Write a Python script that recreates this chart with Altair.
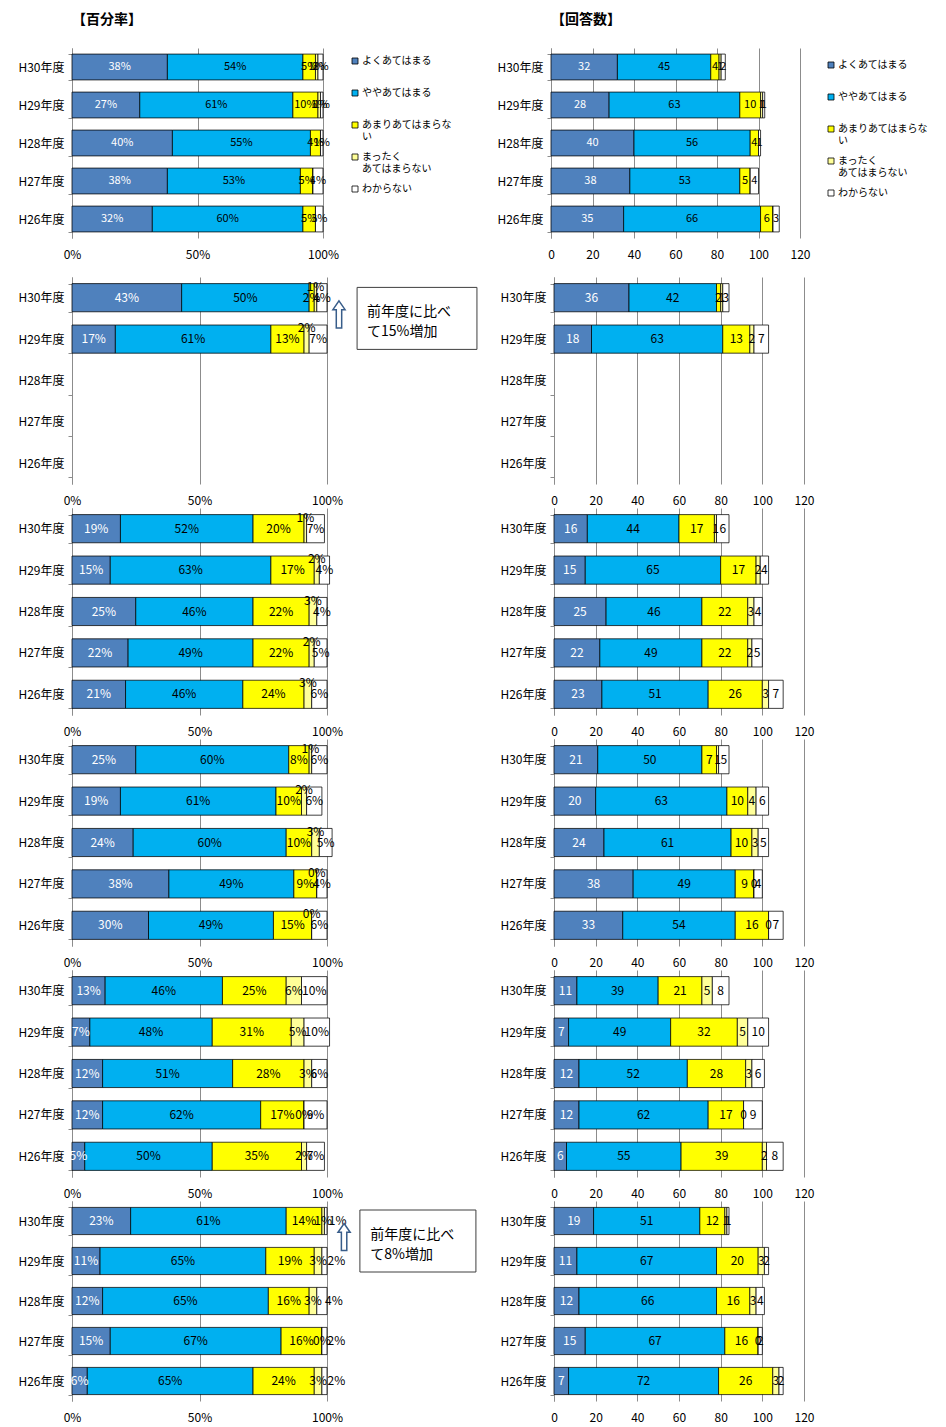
import altair as alt
import pandas as pd

FONT = "Noto Sans CJK JP"

YEARS = ["H30年度", "H29年度", "H28年度", "H27年度", "H26年度"]
CATS = ["よくあてはまる", "ややあてはまる", "あまりあてはまらない", "まったくあてはまらない", "わからない"]
COLORS = ["#4F81BD", "#00B0F0", "#FFFF00", "#FFFF99", "#FFFFFF"]

PCT_TICKS = [0, 50, 100]
CNT_TICKS = [0, 20, 40, 60, 80, 100, 120]

# each inner list = one answer category, values per year (H30 -> H26)
PCT_1 = [[38, 27, 40, 38, 32], [54, 61, 55, 53, 60], [5, 10, 4, 5, 5], [1, 1, 0, 0, 0], [2, 1, 1, 4, 3]]
CNT_1 = [[32, 28, 40, 38, 35], [45, 63, 56, 53, 66], [4, 10, 4, 5, 6], [1, 1, 0, 0, 0], [2, 1, 1, 4, 3]]
PCT_2 = [[43, 17], [50, 61], [2, 13], [1, 2], [4, 7]]
CNT_2 = [[36, 18], [42, 63], [2, 13], [1, 2], [3, 7]]
PCT_3 = [[19, 15, 25, 22, 21], [52, 63, 46, 49, 46], [20, 17, 22, 22, 24], [1, 2, 3, 2, 3], [7, 4, 4, 5, 6]]
CNT_3 = [[16, 15, 25, 22, 23], [44, 65, 46, 49, 51], [17, 17, 22, 22, 26], [1, 2, 3, 2, 3], [6, 4, 4, 5, 7]]
PCT_4 = [[25, 19, 24, 38, 30], [60, 61, 60, 49, 49], [8, 10, 10, 9, 15], [1, 2, 3, 0, 0], [6, 6, 5, 4, 6]]
CNT_4 = [[21, 20, 24, 38, 33], [50, 63, 61, 49, 54], [7, 10, 10, 9, 16], [1, 4, 3, 0, 0], [5, 6, 5, 4, 7]]
PCT_5 = [[13, 7, 12, 12, 5], [46, 48, 51, 62, 50], [25, 31, 28, 17, 35], [6, 5, 3, 0, 2], [10, 10, 6, 9, 7]]
CNT_5 = [[11, 7, 12, 12, 6], [39, 49, 52, 62, 55], [21, 32, 28, 17, 39], [5, 5, 3, 0, 2], [8, 10, 6, 9, 8]]
PCT_6 = [[23, 11, 12, 15, 6], [61, 65, 65, 67, 65], [14, 19, 16, 16, 24], [1, 3, 3, 0, 3], [1, 2, 4, 2, 2]]
CNT_6 = [[19, 11, 12, 15, 7], [51, 67, 66, 67, 72], [12, 20, 16, 16, 26], [1, 3, 3, 0, 3], [1, 2, 4, 2, 2]]

NOTES = ["前年度に比べ\nて15%増加", "前年度に比べ\nて8%増加"]

ARROW = "M0,-1L0.45,-0.35L0.2,-0.35L0.2,1L-0.2,1L-0.2,-0.35L-0.45,-0.35Z"

LEG_EXPR = ("datum.label == 'あまりあてはまらない' ? ['あまりあてはまらな', 'い'] : "
            "datum.label == 'まったくあてはまらない' ? ['まったく', 'あてはまらない'] : "
            "[datum.label, '']")


def make_legend(lx, ly):
    return alt.Legend(orient="none", legendX=lx, legendY=ly, direction="vertical", title=None,
                      symbolType="square", symbolSize=36, symbolStrokeColor="black",
                      symbolStrokeWidth=0.8, symbolOpacity=1, labelFont=FONT, labelFontSize=10,
                      labelColor="black", labelOffset=2, labelExpr=LEG_EXPR, labelBaseline="middle",
                      rowPadding=10, padding=0, labelLimit=200)


def frame(vals):
    recs = []
    for ci, cat in enumerate(CATS):
        for yi, v in enumerate(vals[ci]):
            recs.append({"year": YEARS[yi], "cat": cat, "ci": ci, "v": v})
    return pd.DataFrame(recs)


def panel(vals, kind, w, h, title=None, legend=None, dy4=0, dx5=0, note=None, note_pos=None,
          lab_size=12, yext=60, hide0=False, note_dy=20.7):
    pct = kind == "pct"
    xscale = alt.Scale(domain=[0, 100] if pct else [0, 120], nice=False)
    xaxis_kw = dict(values=PCT_TICKS if pct else CNT_TICKS, grid=True, gridColor="#8C8C8C",
                    domain=False, ticks=False, tickSize=0, labelPadding=11, labelFont=FONT,
                    labelFontSize=12, labelColor="black", labelFlush=False, title=None)
    if pct:
        xaxis_kw["labelExpr"] = "datum.value + '%'"
    xaxis = alt.Axis(**xaxis_kw)
    yscale = alt.Scale(domain=YEARS, paddingInner=0.32, paddingOuter=0.16)
    yaxis = alt.Axis(labelFont=FONT, labelFontSize=12, labelColor="black", domainColor="#8C8C8C",
                     tickColor="#8C8C8C", tickSize=4, tickBand="extent", labelPadding=4,
                     minExtent=yext, maxExtent=yext, grid=False, title=None)
    Y = alt.Y("year:N", scale=yscale, axis=yaxis, title=None)

    base = alt.Chart(frame(vals)).transform_stack(
        stack="v", as_=["x0", "x1"], groupby=["year"], sort=[alt.SortField("ci", order="ascending")]
    ).transform_calculate(
        xm="(datum.x0 + datum.x1) / 2",
        lab=("datum.v + '%'" if pct else "'' + datum.v"),
    )
    bars = base.mark_bar(stroke="black", strokeWidth=0.75).encode(
        x=alt.X("x0:Q", scale=xscale, axis=xaxis, title=None),
        x2="x1:Q",
        y=Y,
        color=alt.Color("cat:N", scale=alt.Scale(domain=CATS, range=COLORS), legend=legend),
    )
    tcol = alt.condition("datum.ci == 0", alt.value("white"), alt.value("black"))
    tx = alt.X("xm:Q", scale=xscale, axis=xaxis, title=None)
    tbase = base.transform_filter("datum.v > 0") if hide0 else base
    layers = [bars]
    for flt, ddx, ddy in (("datum.ci <= 2", 0, 0), ("datum.ci == 3", 0, dy4), ("datum.ci == 4", dx5, 0)):
        layers.append(tbase.transform_filter(flt)
                      .mark_text(font=FONT, fontSize=lab_size, dx=ddx, dy=ddy)
                      .encode(x=tx, y=Y, text="lab:N", color=tcol))

    if note is not None:
        bx0, bx1, ntx, nax = note_pos
        nd = alt.Chart(pd.DataFrame({"t": [note]}))
        ny = alt.Y(datum=YEARS[0], type="nominal", scale=yscale, axis=yaxis, title=None)
        layers.append(nd.mark_bar(size=62, yOffset=note_dy, fill="white", stroke="#3F3F3F",
                                  strokeWidth=1).encode(
            x=alt.X(datum=bx0, type="quantitative", scale=xscale, axis=xaxis, title=None),
            x2=alt.X2(datum=bx1), y=ny))
        layers.append(nd.mark_text(align="left", baseline="middle", font=FONT, fontSize=14,
                                   lineBreak="\n", lineHeight=20, dy=note_dy - 6.5, color="black").encode(
            x=alt.X(datum=ntx, type="quantitative", scale=xscale, axis=xaxis, title=None),
            y=ny, text="t:N"))
        layers.append(nd.mark_point(shape=ARROW, size=729, filled=True, fill="white",
                                    stroke="#385D8A", strokeWidth=1.5, opacity=1,
                                    yOffset=note_dy - 4).encode(
            x=alt.X(datum=nax, type="quantitative", scale=xscale, axis=xaxis, title=None),
            y=ny))

    ch = alt.layer(*layers).properties(width=w, height=h)
    if title is not None:
        ch = ch.properties(title=alt.TitleParams(title, anchor="start", frame="group", font=FONT,
                                                 fontSize=14, fontWeight="bold", color="black",
                                                 offset=15))
    return ch


L1 = panel(PCT_1, "pct", 251, 190, title="【百分率】", legend=make_legend(278, 8), lab_size=11,
           yext=54, hide0=True)
R1 = panel(CNT_1, "cnt", 249, 190, title="【回答数】", legend=make_legend(275, 12), lab_size=11,
           hide0=True)

L2 = panel(PCT_2, "pct", 255, 207, dy4=-11, note=NOTES[0], note_pos=(111.8, 158.8, 115.7, 104.7))
R2 = panel(CNT_2, "cnt", 250, 207)
L3 = panel(PCT_3, "pct", 255, 207, dy4=-11)
R3 = panel(CNT_3, "cnt", 250, 207)
L4 = panel(PCT_4, "pct", 255, 207, dy4=-11)
R4 = panel(CNT_4, "cnt", 250, 207)
L5 = panel(PCT_5, "pct", 255, 207)
R5 = panel(CNT_5, "cnt", 250, 207)
L6 = panel(PCT_6, "pct", 255, 200, dx5=12, note=NOTES[1], note_pos=(112.9, 158.4, 117.0, 106.7),
           note_dy=20)
R6 = panel(CNT_6, "cnt", 250, 200)

row1 = alt.hconcat(L1, R1, spacing=228, bounds="flush").resolve_scale(
    color="independent").resolve_legend(color="independent")
rest = alt.concat(L2, R2, L3, R3, L4, R4, L5, R5, L6, R6, columns=2,
                  spacing={"row": 24, "column": 227}, bounds="flush", align="each").resolve_scale(
    color="independent").resolve_legend(color="independent")

chart = alt.concat(row1, rest, columns=1, spacing=11, align="none").resolve_scale(
    color="independent").resolve_legend(color="independent").properties(
    padding={"left": 4, "top": 5, "right": 0, "bottom": 0}
).configure_view(stroke=None)

chart.save("out.html", embed_options={"renderer": "svg", "actions": False})
